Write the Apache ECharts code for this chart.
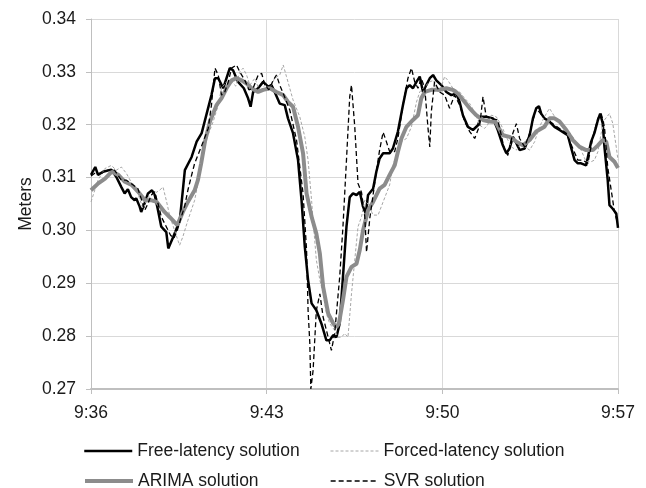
<!DOCTYPE html>
<html>
<head>
<meta charset="utf-8">
<script src="https://cdn.jsdelivr.net/npm/echarts@6/dist/echarts.min.js"></script>
<style>
  html, body { margin: 0; padding: 0; background: #fff; }
  #chart { width: 646px; height: 488px; }
</style>
</head>
<body>
<div id="chart"></div>
<script>
// time = minutes after 9:36, value = meters
const xTicks = ['9:36', '9:43', '9:50', '9:57']

const freeT = [0, 0.17, 0.28, 0.48, 0.81, 1.01, 1.21, 1.34, 1.47, 1.6, 1.74, 1.8, 1.94, 2.0, 2.14, 2.27, 2.43, 2.54, 2.67, 2.8, 3.0, 3.08, 3.28, 3.54, 3.74, 4.01, 4.21, 4.41, 4.61, 4.8, 4.94, 5.07, 5.27, 5.53, 5.66, 5.86, 6.09, 6.26, 6.36, 6.46, 6.66, 6.86, 7.06, 7.19, 7.32, 7.52, 7.72, 7.85, 8.05, 8.25, 8.39, 8.52, 8.65, 8.79, 8.98, 9.18, 9.38, 9.51, 9.65, 9.78, 9.91, 10.04, 10.18, 10.31, 10.44, 10.58, 10.71, 10.84, 10.95, 11.04, 11.24, 11.37, 11.5, 11.64, 11.9, 12.03, 12.23, 12.43, 12.57, 12.7, 12.83, 12.97, 13.1, 13.23, 13.36, 13.5, 13.63, 13.76, 13.96, 14.16, 14.36, 14.56, 14.69, 14.82, 15.02, 15.22, 15.42, 15.55, 15.75, 16.02, 16.21, 16.41, 16.55, 16.68, 16.81, 16.95, 17.08, 17.28, 17.48, 17.61, 17.74, 17.85, 17.94, 18.07, 18.27, 18.47, 18.67, 18.87, 19.0, 19.14, 19.27, 19.4, 19.53, 19.73, 19.8, 19.93, 20.06, 20.2, 20.29, 20.39, 20.46, 20.59, 20.66, 20.79, 20.93, 21.0]
const freeV = [0.3105, 0.312, 0.3105, 0.3111, 0.3115, 0.3101, 0.3082, 0.307, 0.3078, 0.3063, 0.3057, 0.3061, 0.3045, 0.3035, 0.3052, 0.307, 0.3076, 0.3067, 0.3038, 0.3007, 0.2997, 0.2966, 0.2988, 0.3019, 0.3114, 0.3139, 0.3168, 0.3184, 0.3221, 0.3256, 0.3288, 0.3288, 0.3269, 0.3307, 0.3303, 0.3281, 0.3269, 0.325, 0.3234, 0.3262, 0.3269, 0.3281, 0.3272, 0.3275, 0.3262, 0.324, 0.3237, 0.3212, 0.3184, 0.3133, 0.3057, 0.2969, 0.2906, 0.2862, 0.2849, 0.2824, 0.2792, 0.2792, 0.2802, 0.2798, 0.2824, 0.2912, 0.3007, 0.3063, 0.307, 0.3067, 0.3073, 0.3045, 0.3032, 0.3067, 0.3079, 0.3111, 0.3136, 0.3146, 0.3146, 0.3155, 0.3187, 0.3237, 0.3269, 0.3275, 0.3269, 0.3281, 0.3291, 0.3262, 0.3275, 0.3288, 0.3294, 0.3284, 0.3275, 0.3262, 0.3256, 0.3259, 0.3243, 0.3218, 0.3196, 0.319, 0.3199, 0.3215, 0.3215, 0.3212, 0.319, 0.3161, 0.3146, 0.3155, 0.3177, 0.3165, 0.3152, 0.3155, 0.318, 0.3212, 0.3231, 0.3235, 0.3221, 0.3212, 0.3206, 0.3196, 0.319, 0.3184, 0.318, 0.3155, 0.3133, 0.3127, 0.3127, 0.3123, 0.3122, 0.3168, 0.3184, 0.3209, 0.3221, 0.3203, 0.3158, 0.3095, 0.3048, 0.3041, 0.3032, 0.3005]

const forcedT = [0, 0.28, 0.55, 0.81, 1.01, 1.21, 1.41, 1.63, 1.87, 2.07, 2.27, 2.54, 2.73, 2.87, 3.0, 3.13, 3.33, 3.53, 3.66, 3.86, 4.13, 4.39, 4.59, 4.87, 5.07, 5.2, 5.4, 5.6, 5.77, 5.93, 6.06, 6.2, 6.33, 6.53, 6.73, 6.93, 7.13, 7.32, 7.52, 7.66, 7.79, 8.05, 8.32, 8.52, 8.65, 8.79, 8.85, 8.98, 9.12, 9.25, 9.38, 9.51, 9.71, 9.84, 9.98, 10.11, 10.24, 10.38, 10.51, 10.64, 10.78, 10.91, 11.07, 11.24, 11.44, 11.64, 11.9, 12.03, 12.17, 12.37, 12.57, 12.77, 12.97, 13.1, 13.23, 13.5, 13.65, 13.83, 13.96, 14.09, 14.22, 14.42, 14.69, 14.89, 15.09, 15.29, 15.49, 15.68, 15.8, 15.95, 16.15, 16.35, 16.55, 16.75, 16.95, 17.08, 17.28, 17.48, 17.68, 17.87, 18.07, 18.27, 18.4, 18.6, 18.8, 19.0, 19.2, 19.34, 19.53, 19.73, 19.93, 20.06, 20.2, 20.33, 20.46, 20.66, 20.79, 20.93, 21.0]
const forcedV = [0.3054, 0.3095, 0.3117, 0.3123, 0.3114, 0.312, 0.3108, 0.3089, 0.307, 0.3041, 0.3063, 0.307, 0.3076, 0.3082, 0.3057, 0.3029, 0.3, 0.2972, 0.2988, 0.3019, 0.3057, 0.312, 0.3171, 0.3206, 0.3237, 0.3269, 0.3281, 0.3281, 0.3273, 0.33, 0.3307, 0.3294, 0.3275, 0.3288, 0.3262, 0.3275, 0.3269, 0.3288, 0.3294, 0.3313, 0.3291, 0.3247, 0.3215, 0.3177, 0.3133, 0.3057, 0.3019, 0.2944, 0.2906, 0.2881, 0.2843, 0.2824, 0.2811, 0.2798, 0.2798, 0.2805, 0.2798, 0.288, 0.2944, 0.3007, 0.3026, 0.3057, 0.3048, 0.3029, 0.3029, 0.3054, 0.3086, 0.3123, 0.3142, 0.3168, 0.3174, 0.3196, 0.3243, 0.3262, 0.3269, 0.3281, 0.3284, 0.3262, 0.3272, 0.3291, 0.3284, 0.3269, 0.3262, 0.325, 0.324, 0.3224, 0.3199, 0.3193, 0.3199, 0.3218, 0.3215, 0.3199, 0.3177, 0.3158, 0.3152, 0.3161, 0.3158, 0.3152, 0.3168, 0.3196, 0.3215, 0.3231, 0.3221, 0.3206, 0.3196, 0.319, 0.3177, 0.3165, 0.3152, 0.313, 0.313, 0.3133, 0.3149, 0.3184, 0.3209, 0.3221, 0.3203, 0.3158, 0.3133]

const arimaT = [0, 0.29, 0.56, 0.82, 1.09, 1.35, 1.62, 1.88, 2.15, 2.42, 2.62, 2.93, 3.14, 3.44, 3.66, 3.86, 4.13, 4.26, 4.39, 4.54, 4.74, 5.0, 5.2, 5.4, 5.6, 5.8, 6.0, 6.2, 6.4, 6.66, 6.86, 7.13, 7.39, 7.66, 7.85, 8.05, 8.25, 8.45, 8.59, 8.79, 8.98, 9.12, 9.25, 9.45, 9.65, 9.78, 9.88, 10.04, 10.18, 10.38, 10.58, 10.71, 10.84, 11.04, 11.24, 11.5, 11.7, 11.9, 12.1, 12.23, 12.37, 12.57, 12.83, 13.03, 13.16, 13.3, 13.56, 13.89, 14.16, 14.42, 14.62, 14.82, 15.09, 15.35, 15.62, 15.88, 16.12, 16.41, 16.68, 16.95, 17.21, 17.48, 17.74, 18.07, 18.27, 18.47, 18.67, 18.94, 19.2, 19.47, 19.73, 20.0, 20.2, 20.39, 20.53, 20.66, 20.86, 21.0]
const arimaV = [0.3076, 0.3089, 0.3098, 0.3111, 0.3105, 0.3092, 0.3086, 0.3073, 0.3057, 0.3057, 0.3054, 0.3035, 0.3025, 0.301, 0.3035, 0.3054, 0.3076, 0.3095, 0.3127, 0.3168, 0.3206, 0.3237, 0.325, 0.3269, 0.3284, 0.3288, 0.3284, 0.3278, 0.3269, 0.3262, 0.3266, 0.3269, 0.3262, 0.3256, 0.3243, 0.3234, 0.3196, 0.3146, 0.307, 0.3026, 0.2994, 0.2956, 0.2893, 0.2843, 0.2824, 0.2817, 0.2824, 0.2868, 0.2912, 0.2931, 0.2937, 0.2963, 0.3, 0.3038, 0.3054, 0.3079, 0.3086, 0.3105, 0.3123, 0.3149, 0.3174, 0.3196, 0.3209, 0.3218, 0.325, 0.3262, 0.3266, 0.3266, 0.3269, 0.3266, 0.3259, 0.3247, 0.3231, 0.3218, 0.3209, 0.3206, 0.3205, 0.318, 0.3177, 0.3168, 0.3161, 0.3171, 0.3187, 0.3196, 0.3212, 0.3212, 0.3206, 0.319, 0.3171, 0.3158, 0.3152, 0.3152, 0.3161, 0.3171, 0.3168, 0.3139, 0.313, 0.3118]

const svrT = [0, 0.15, 0.41, 0.68, 0.94, 1.21, 1.41, 1.6, 1.87, 2.0, 2.14, 2.27, 2.4, 2.54, 2.67, 2.8, 3.0, 3.17, 3.3, 3.44, 3.6, 3.73, 3.86, 3.99, 4.13, 4.4, 4.67, 4.8, 4.94, 5.07, 5.2, 5.33, 5.47, 5.6, 5.8, 5.93, 6.13, 6.29, 6.46, 6.66, 6.8, 6.93, 7.09, 7.26, 7.39, 7.52, 7.66, 7.92, 8.19, 8.45, 8.59, 8.65, 8.72, 8.76, 8.85, 8.98, 9.12, 9.25, 9.45, 9.58, 9.71, 9.91, 10.04, 10.18, 10.31, 10.38, 10.51, 10.64, 10.78, 10.91, 10.98, 11.11, 11.24, 11.37, 11.5, 11.64, 11.77, 11.9, 12.1, 12.23, 12.43, 12.63, 12.77, 12.9, 13.03, 13.16, 13.3, 13.43, 13.5, 13.56, 13.69, 13.89, 14.09, 14.29, 14.49, 14.69, 14.89, 15.09, 15.29, 15.49, 15.62, 15.75, 15.96, 16.21, 16.48, 16.61, 16.81, 16.95, 17.08, 17.28, 17.48, 17.74, 18.07, 18.4, 18.67, 18.94, 19.2, 19.4, 19.6, 19.8, 20.0, 20.2, 20.33, 20.46, 20.59, 20.73, 20.86, 20.99]
const svrV = [0.3103, 0.3108, 0.3108, 0.3114, 0.3114, 0.3095, 0.3095, 0.3089, 0.3079, 0.306, 0.3038, 0.3051, 0.3067, 0.3073, 0.3051, 0.3026, 0.3007, 0.2991, 0.2985, 0.3, 0.3026, 0.3045, 0.3076, 0.3101, 0.3127, 0.3159, 0.3193, 0.3237, 0.3307, 0.3294, 0.3256, 0.3262, 0.3281, 0.3307, 0.3313, 0.33, 0.3284, 0.3266, 0.3269, 0.3294, 0.3297, 0.3275, 0.3266, 0.3284, 0.3294, 0.3275, 0.3259, 0.3228, 0.3171, 0.307, 0.2963, 0.2849, 0.2786, 0.2700, 0.2735, 0.2849, 0.288, 0.2836, 0.2798, 0.2773, 0.2805, 0.2912, 0.3007, 0.3133, 0.3253, 0.3275, 0.3196, 0.3089, 0.3072, 0.3026, 0.2959, 0.3023, 0.3067, 0.3111, 0.3152, 0.3186, 0.3168, 0.3149, 0.3149, 0.3174, 0.3237, 0.3288, 0.3307, 0.3281, 0.3269, 0.3288, 0.3269, 0.3193, 0.3158, 0.3224, 0.3281, 0.3262, 0.3256, 0.3231, 0.3256, 0.3237, 0.3206, 0.3187, 0.3174, 0.3199, 0.3253, 0.3215, 0.3212, 0.3209, 0.3152, 0.3142, 0.3184, 0.3202, 0.3174, 0.3158, 0.3184, 0.3231, 0.3212, 0.3202, 0.3193, 0.3184, 0.3155, 0.3133, 0.3133, 0.3127, 0.3177, 0.3212, 0.3221, 0.3196, 0.312, 0.3076, 0.3035, 0.3013]

const zip = (t, v) => t.map((x, i) => [x, v[i]])

const font = '"Liberation Sans", Arial, sans-serif'
const fontSize = 17.5
const textColor = '#1a1a1a'
const gridColor = '#d9d9d9'

const chart = echarts.init(document.getElementById('chart'))
chart.setOption({
  animation: false,
  backgroundColor: '#fff',
  textStyle: { fontFamily: font },
  grid: { left: 91, right: 28, top: 19, bottom: 99 },
  legend: [
    { data: ['Free-latency solution'], left: 83, top: 442, lineStyle: { width: 2.5 } },
    { data: ['Forced-latency solution'], left: 330, top: 442, lineStyle: { width: 1 } },
    { data: ['ARIMA solution'], left: 83, top: 472, lineStyle: { width: 4 } },
    { data: ['SVR solution'], left: 330, top: 472, lineStyle: { width: 1.3 } }
  ].map(l => Object.assign({
    padding: 0,
    itemWidth: 48,
    itemHeight: 20,
    itemStyle: { color: 'transparent', borderColor: 'transparent', borderWidth: 0, opacity: 0 },
    textStyle: { fontSize: fontSize, color: textColor, fontFamily: font }
  }, l)),
  xAxis: {
    type: 'value',
    min: 0,
    max: 21,
    interval: 7,
    axisLine: { lineStyle: { color: '#bfbfbf', width: 2 } },
    axisTick: { show: true, length: 5, lineStyle: { color: '#bfbfbf' } },
    axisLabel: {
      fontSize: fontSize,
      color: textColor,
      margin: 15,
      formatter: v => xTicks[Math.round(v / 7)]
    },
    splitLine: { show: true, lineStyle: { color: gridColor, width: 1 } }
  },
  yAxis: {
    type: 'value',
    min: 0.27,
    max: 0.34,
    interval: 0.01,
    name: 'Meters',
    nameLocation: 'middle',
    nameRotate: 90,
    nameGap: 56,
    nameMoveOverlap: false,
    nameTextStyle: { fontSize: fontSize, color: textColor },
    axisLine: { show: true, lineStyle: { color: '#bfbfbf', width: 1 } },
    axisTick: { show: true, length: 5, lineStyle: { color: '#bfbfbf' } },
    axisLabel: {
      fontSize: fontSize,
      color: textColor,
      margin: 15,
      formatter: v => v.toFixed(2)
    },
    splitLine: { show: true, lineStyle: { color: gridColor, width: 1 } }
  },
  series: [
    {
      name: 'Free-latency solution',
      type: 'line',
      symbol: 'none',
      data: zip(freeT, freeV),
      lineStyle: { color: '#000', width: 2.5 },
      itemStyle: { color: '#000' }
    },
    {
      name: 'Forced-latency solution',
      type: 'line',
      symbol: 'none',
      data: zip(forcedT, forcedV),
      lineStyle: { color: '#a6a6a6', width: 1, type: [3, 2] },
      itemStyle: { color: '#a6a6a6' }
    },
    {
      name: 'ARIMA solution',
      type: 'line',
      symbol: 'none',
      data: zip(arimaT, arimaV),
      lineStyle: { color: '#8c8c8c', width: 4 },
      itemStyle: { color: '#8c8c8c' }
    },
    {
      name: 'SVR solution',
      type: 'line',
      symbol: 'none',
      data: zip(svrT, svrV),
      lineStyle: { color: '#000', width: 1.3, type: [5, 3] },
      itemStyle: { color: '#000' }
    }
  ]
})
</script>
</body>
</html>
